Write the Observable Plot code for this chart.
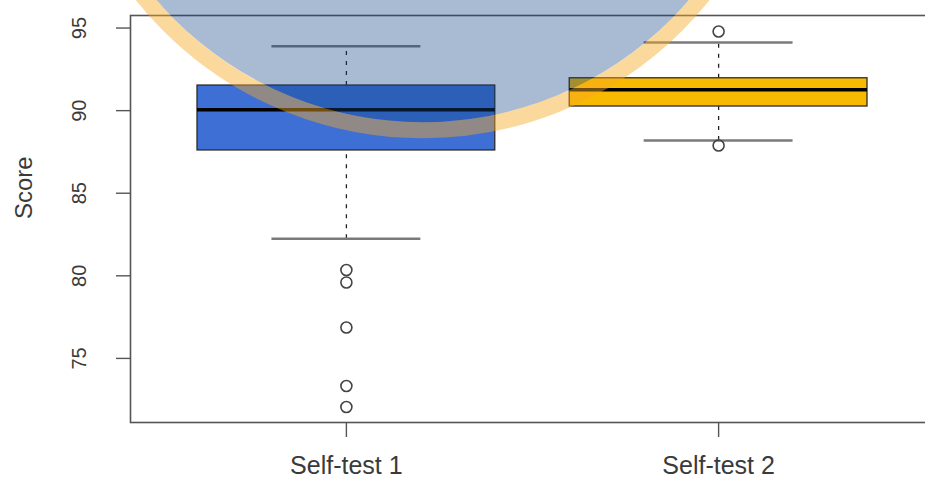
<!DOCTYPE html>
<html>
<head>
<meta charset="utf-8">
<script src="https://cdn.jsdelivr.net/npm/d3@7"></script>
<script src="https://cdn.jsdelivr.net/npm/@observablehq/plot@0.6"></script>
<style>
  html, body { margin: 0; padding: 0; background: #fff; }
  #chart svg { display: block; }
</style>
</head>
<body>
<div id="chart"></div>
<script>
// ---- data ----
const groups = ["Self-test 1", "Self-test 2"];
const positions = [1, 2];
const q1 = [87.59, 90.25];
const medians = [90.05, 91.26];
const q3 = [91.52, 91.96];
const whiskerLow = [82.24, 88.19];
const whiskerHigh = [93.9, 94.13];
const outliers1 = [80.35, 79.6, 76.87, 73.33, 72.06];
const outliers2 = [94.79, 87.89];
const boxColors = ["#3d6fd5", "#f8ba00"];
const yTicks = [75, 80, 85, 90, 95];

// ---- derived tables ----
const boxes = groups.map((g, i) => ({
  group: g, pos: positions[i], q1: q1[i], med: medians[i], q3: q3[i],
  lo: whiskerLow[i], hi: whiskerHigh[i], color: boxColors[i]
}));
const outliers = [
  ...outliers1.map(v => ({pos: 1, v})),
  ...outliers2.map(v => ({pos: 2, v}))
];

const font = "'Liberation Sans', Arial, Helvetica, sans-serif";
const textColor = "#3a3a3a";

const chart = Plot.plot({
  width: 925,
  height: 481,
  marginLeft: 130,
  marginTop: 15,
  marginBottom: 59,
  marginRight: -9,
  style: {fontFamily: font, background: "#fff", color: textColor},
  x: {domain: [0.42, 2.58]},
  y: {domain: [71.12, 95.76]},
  marks: [
    // whiskers (dashed)
    Plot.ruleX(boxes, {x: "pos", y1: "q3", y2: "hi", stroke: "#222", strokeWidth: 1.3, strokeDasharray: "4,6"}),
    Plot.ruleX(boxes, {x: "pos", y1: "lo", y2: "q1", stroke: "#222", strokeWidth: 1.3, strokeDasharray: "4,6"}),
    // whisker caps
    Plot.ruleY(boxes, {y: "hi", x1: d => d.pos - 0.2, x2: d => d.pos + 0.2, stroke: "#7a7a7a", strokeWidth: 2.5}),
    Plot.ruleY(boxes, {y: "lo", x1: d => d.pos - 0.2, x2: d => d.pos + 0.2, stroke: "#7a7a7a", strokeWidth: 2.5}),
    // boxes
    Plot.rect(boxes, {x1: d => d.pos - 0.4, x2: d => d.pos + 0.4, y1: "q1", y2: "q3", fill: "color", stroke: "#2a2a2a", strokeWidth: 1.3}),
    // medians
    Plot.ruleY(boxes, {y: "med", x1: d => d.pos - 0.4, x2: d => d.pos + 0.4, stroke: "#000", strokeWidth: 3.5}),
    // outliers
    Plot.dot(outliers, {x: "pos", y: "v", r: 5.5, stroke: "#444", strokeWidth: 1.6, fill: "none"}),
    // plot box
    Plot.frame({stroke: "#555", strokeWidth: 1.6}),
    // axes
    Plot.axisY({ticks: yTicks, tickSize: 14, tickRotate: -90, tickPadding: 31, fontSize: 20, label: null, stroke: "#555", strokeWidth: 1.4, fill: textColor}),
    Plot.axisX({ticks: positions, tickFormat: d => groups[d - 1], tickSize: 15, tickPadding: 19, fontSize: 25, label: null, stroke: "#555", strokeWidth: 1.4, fill: textColor}),
    Plot.text(["Score"], {frameAnchor: "left", dx: -106, rotate: -90, fontSize: 24, fill: textColor}),
    // semi-transparent watermark disc drawn over the chart (as in the reference)
    Plot.dot([0], {x: () => 1.205, y: () => 110.55, r: 351, fill: "rgb(14,67,129)", fillOpacity: 0.36, stroke: "none"}),
    Plot.dot([0], {x: () => 1.205, y: () => 110.55, r: 359, fill: "none", stroke: "rgb(247,168,35)", strokeOpacity: 0.45, strokeWidth: 16})
  ]
});
document.getElementById("chart").append(chart);
</script>
</body>
</html>
